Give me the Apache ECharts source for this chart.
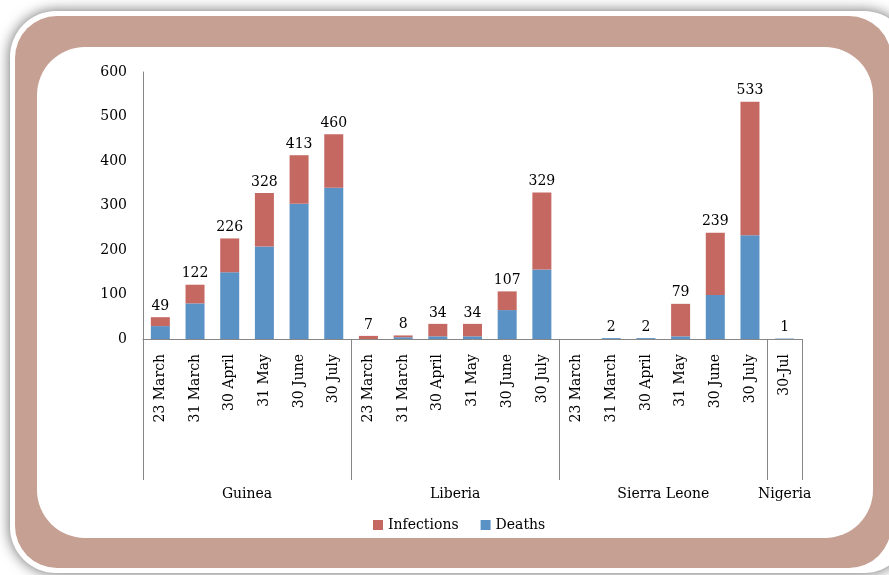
<!DOCTYPE html>
<html>
<head>
<meta charset="utf-8">
<script src="https://cdn.jsdelivr.net/npm/echarts@6/dist/echarts.min.js"></script>
<style>
  html, body { margin: 0; padding: 0; background: #fff; }
  #chart { width: 889px; height: 575px; }
</style>
</head>
<body>
<div id="chart"></div>
<script>
// countries and how many dates each one has
var countries = ['Guinea', 'Liberia', 'Sierra Leone', 'Nigeria'];
var groupSizes = [6, 6, 6, 1];

var dates = [
  '23 March', '31 March', '30 April', '31 May', '30 June', '30 July',
  '23 March', '31 March', '30 April', '31 May', '30 June', '30 July',
  '23 March', '31 March', '30 April', '31 May', '30 June', '30 July',
  '30-Jul'
];

// total cases (the label on top of each bar)
var totals = [49, 122, 226, 328, 413, 460,
              7, 8, 34, 34, 107, 329,
              0, 2, 2, 79, 239, 533,
              1];
// deaths (blue part of the bar)
var deaths = [29, 80, 150, 208, 304, 340,
              0, 4, 6, 6, 65, 156,
              0, 2, 2, 6, 99, 233,
              1];

var infections = totals.map(function (t, i) { return t - deaths[i]; });

// group boundaries and centres for the country axis
var bounds = [0];
var centers = [];
groupSizes.forEach(function (n, i) {
  var start = bounds[bounds.length - 1];
  centers.push(start + n / 2);
  bounds.push(start + n);
});

var font = 'DejaVu Serif';
var axisGray = '#868686';

var myChart = echarts.init(document.getElementById('chart'));
myChart.setOption({
  animation: false,
  textStyle: { fontFamily: font },
  graphic: [
    {
      type: 'rect', z: -10,
      shape: { x: 10, y: 11, width: 900, height: 562, r: 46 },
      style: { fill: '#fff', shadowBlur: 14, shadowColor: 'rgba(0,0,0,0.6)' }
    },
    {
      type: 'rect', z: -9,
      shape: { x: 15, y: 16, width: 876, height: 552, r: 42 },
      style: { fill: '#c6a093' }
    },
    {
      type: 'rect', z: -8,
      shape: { x: 37, y: 47, width: 836, height: 491, r: 48 },
      style: { fill: '#fff' }
    }
  ],
  grid: { left: 143, top: 72, width: 659, bottom: 236 },
  legend: {
    data: ['Infections', 'Deaths'],
    left: 368,
    top: 513,
    icon: 'rect',
    itemWidth: 10,
    itemHeight: 10,
    itemGap: 22,
    textStyle: { fontFamily: font, fontSize: 14, color: '#000' }
  },
  xAxis: [
    {
      type: 'category',
      data: dates,
      axisLine: { lineStyle: { color: axisGray } },
      axisTick: { show: false },
      axisLabel: {
        rotate: 90,
        interval: 0,
        margin: 15,
        fontFamily: font,
        fontSize: 14,
        color: '#000'
      }
    },
    {
      type: 'value',
      position: 'bottom',
      min: 0,
      max: bounds[bounds.length - 1],
      axisLine: { show: false },
      splitLine: { show: false },
      axisTick: {
        show: true,
        customValues: bounds,
        length: 141,
        lineStyle: { color: axisGray }
      },
      axisLabel: {
        customValues: centers,
        margin: 148,
        fontFamily: font,
        fontSize: 14,
        color: '#000',
        formatter: function (v) {
          var i = centers.indexOf(v);
          return i >= 0 ? countries[i] : '';
        }
      }
    }
  ],
  yAxis: {
    type: 'value',
    min: 0,
    max: 600,
    interval: 100,
    axisLine: { show: true, lineStyle: { color: axisGray } },
    axisTick: { show: false },
    splitLine: { show: false },
    axisLabel: { margin: 16, fontFamily: font, fontSize: 14, color: '#000' }
  },
  series: [
    {
      name: 'Deaths',
      type: 'bar',
      stack: 'cases',
      barWidth: 19,
      data: deaths,
      itemStyle: { color: '#5a92c6' }
    },
    {
      name: 'Infections',
      type: 'bar',
      stack: 'cases',
      barWidth: 19,
      data: infections,
      itemStyle: { color: '#c66862' },
      label: {
        show: true,
        position: 'top',
        distance: 4,
        fontFamily: font,
        fontSize: 14,
        color: '#000',
        formatter: function (p) {
          var t = totals[p.dataIndex];
          return t > 0 ? String(t) : '';
        }
      }
    }
  ]
});
</script>
</body>
</html>
